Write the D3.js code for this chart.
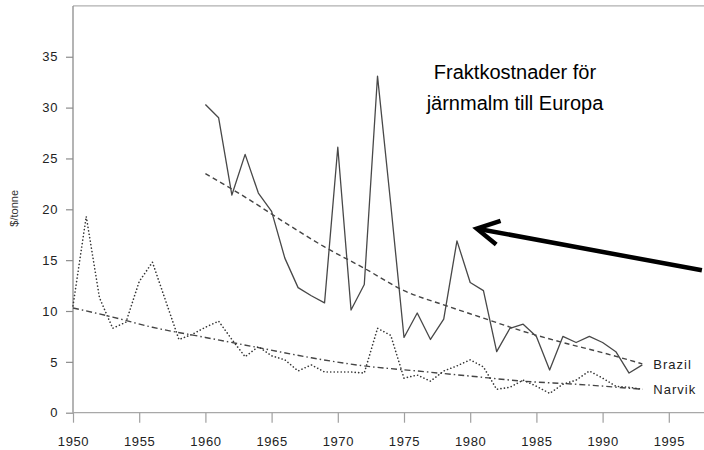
<!DOCTYPE html>
<html><head><meta charset="utf-8">
<script src="https://cdn.jsdelivr.net/npm/d3@7"></script>
<style>
body{margin:0;background:#fff}
svg{display:block}
text{font-family:"Liberation Sans",Arial,Helvetica,sans-serif}
</style>
</head><body>
<svg id="chart" width="704" height="450"></svg>
<script>
// ---- data ----
const brazilYears = [1960,1961,1962,1963,1964,1965,1966,1967,1968,1969,1970,1971,1972,1973,1974,1975,1976,1977,1978,1979,1980,1981,1982,1983,1984,1985,1986,1987,1988,1989,1990,1991,1992,1993];
const brazilValues = [30.3,29.0,21.4,25.4,21.6,19.8,15.2,12.3,11.5,10.8,26.1,10.1,12.6,33.1,20.5,7.4,9.8,7.2,9.2,16.9,12.8,12.0,6.0,8.3,8.7,7.5,4.2,7.5,6.9,7.5,6.9,6.0,3.9,4.7];

const narvikYears = [1950,1951,1952,1953,1954,1955,1956,1957,1958,1959,1960,1961,1962,1963,1964,1965,1966,1967,1968,1969,1970,1971,1972,1973,1974,1975,1976,1977,1978,1979,1980,1981,1982,1983,1984,1985,1986,1987,1988,1989,1990,1991,1992,1993];
const narvikValues = [10.5,19.3,11.3,8.3,8.9,12.9,14.8,11.0,7.2,7.7,8.4,9.0,7.2,5.5,6.5,5.6,5.2,4.1,4.7,4.0,4.0,4.0,3.9,8.3,7.6,3.4,3.7,3.1,4.1,4.6,5.2,4.5,2.3,2.5,3.2,2.6,1.9,2.8,3.2,4.1,3.4,2.6,2.5,2.3];

const brazilTrendYears = [1960,1963,1966,1969,1972,1975,1978,1981,1984,1987,1990,1993];
const brazilTrendValues = [23.5,21.2,18.7,16.3,14.2,12.0,10.6,9.3,8.0,6.9,5.9,4.8];

const narvikTrendYears = [1950,1953,1956,1960,1964,1968,1972,1976,1980,1984,1988,1993];
const narvikTrendValues = [10.3,9.4,8.4,7.4,6.4,5.4,4.6,4.1,3.6,3.1,2.8,2.3];

const xTicks = [1950,1955,1960,1965,1970,1975,1980,1985,1990,1995];
const yTicks = [0,5,10,15,20,25,30,35];
const seriesLabels = ["Brazil","Narvik"];
const yLabel = "$/tonne";
const titleLines = ["Fraktkostnader för","järnmalm till Europa"];
const arrowTip = [1980.5, 18.1];   // annotation points to the Brazil series
const arrowTail = [1997.5, 14.0];

// ---- scales ----
const svg = d3.select("#chart");
const x = d3.scaleLinear().domain([1950,1995]).range([73, 73 + 45*13.24]);
const y = d3.scaleLinear().domain([0,40]).range([412.7, 5.9]);

const frameColor = "#8c8c8c";
const inkColor = "#454545";

// frame top (right edge runs off the picture)
svg.append("line").attr("x1", x(1950)).attr("x2", 720).attr("y1", y(40)).attr("y2", y(40))
  .attr("stroke", "#b0b0b0").attr("stroke-width", 1.3);

// axes
const yAxis = d3.axisLeft(y).tickValues(yTicks).tickSize(7).tickPadding(8).tickFormat(d3.format("d"));
const gy = svg.append("g").attr("transform", `translate(${x(1950)},0)`).call(yAxis);
gy.select(".domain").attr("stroke", frameColor).attr("stroke-width", 1.3).attr("d", `M0,${y(0)}V${y(40)}`);
gy.selectAll(".tick line").attr("stroke", frameColor).attr("stroke-width", 1.2);
gy.selectAll(".tick text").attr("font-size", 13).attr("fill", "#222").style("letter-spacing","0.6px")
  .attr("font-family", '"Liberation Sans",Arial,sans-serif');

const xAxis = d3.axisBottom(x).tickValues(xTicks).tickSize(10).tickPadding(14).tickFormat(d3.format("d"));
const gx = svg.append("g").attr("transform", `translate(0,${y(0)})`).call(xAxis);
gx.select(".domain").attr("stroke", "#a8a8a8").attr("stroke-width", 1.3).attr("d", `M${x(1950)},0H720`);
gx.selectAll(".tick line").attr("stroke", "#a0a0a0").attr("stroke-width", 1.2);
gx.selectAll(".tick text").attr("font-size", 13).attr("fill", "#222").style("letter-spacing","0.6px")
  .attr("font-family", '"Liberation Sans",Arial,sans-serif');

// y label
svg.append("text").attr("transform", `translate(18,${(y(0)+y(40))/2 - 1}) rotate(-90)`)
  .attr("text-anchor", "middle").attr("font-size", 11).attr("fill", "#333").text(yLabel);

// ---- series ----
const brazil = brazilYears.map((d,i) => [d, brazilValues[i]]);
const narvik = narvikYears.map((d,i) => [d, narvikValues[i]]);
const brazilTrend = brazilTrendYears.map((d,i) => [d, brazilTrendValues[i]]);
const narvikTrend = narvikTrendYears.map((d,i) => [d, narvikTrendValues[i]]);

const line = d3.line().x(d => x(d[0])).y(d => y(d[1]));
const smooth = d3.line().x(d => x(d[0])).y(d => y(d[1])).curve(d3.curveMonotoneX);

svg.append("path").datum(brazilTrend).attr("d", smooth).attr("fill","none")
  .attr("stroke", inkColor).attr("stroke-width", 1.4).attr("stroke-dasharray", "5,3.5");
svg.append("path").datum(narvikTrend).attr("d", smooth).attr("fill","none")
  .attr("stroke", inkColor).attr("stroke-width", 1.4).attr("stroke-dasharray", "6,3,1.5,3");
svg.append("path").datum(brazil).attr("d", line).attr("fill","none")
  .attr("stroke", "#484848").attr("stroke-width", 1.3).attr("stroke-linejoin","round");
svg.append("path").datum(narvik).attr("d", line).attr("fill","none")
  .attr("stroke", "#353535").attr("stroke-width", 1.6).attr("stroke-linecap","round")
  .attr("stroke-dasharray", "0.1,3.4");

// series labels at trend ends
const ends = [brazilTrend[brazilTrend.length-1], narvikTrend[narvikTrend.length-1]];
svg.selectAll(".slabel").data(seriesLabels).join("text").attr("class","slabel")
  .attr("x", (d,i) => x(ends[i][0]) + 11)
  .attr("y", (d,i) => y(ends[i][1]) + 5)
  .attr("font-size", 13).attr("fill", "#222").style("letter-spacing","1px").text(d => d);

// ---- annotation ----
svg.selectAll(".title").data(titleLines).join("text").attr("class","title")
  .attr("x", 515).attr("y", (d,i) => 79 + i*31)
  .attr("text-anchor","middle").attr("font-size", 20).attr("fill","#000").text(d => d);

const tx = x(arrowTip[0]), ty = y(arrowTip[1]);
const ex = x(arrowTail[0]), ey = y(arrowTail[1]);
const ang = Math.atan2(ey - ty, ex - tx);
const headLen = 25, spread = 0.5;
svg.append("line").attr("x1", tx + 2*Math.cos(ang)).attr("y1", ty + 2*Math.sin(ang)).attr("x2", ex).attr("y2", ey)
  .attr("stroke","#000").attr("stroke-width", 4.5);
svg.append("path")
  .attr("d", `M${tx + headLen*Math.cos(ang - spread)},${ty + headLen*Math.sin(ang - spread)}L${tx},${ty}L${tx + headLen*Math.cos(ang + spread)},${ty + headLen*Math.sin(ang + spread)}`)
  .attr("fill","none").attr("stroke","#000").attr("stroke-width", 4.5).attr("stroke-linejoin","miter").attr("stroke-linecap","butt");
</script>
</body></html>
